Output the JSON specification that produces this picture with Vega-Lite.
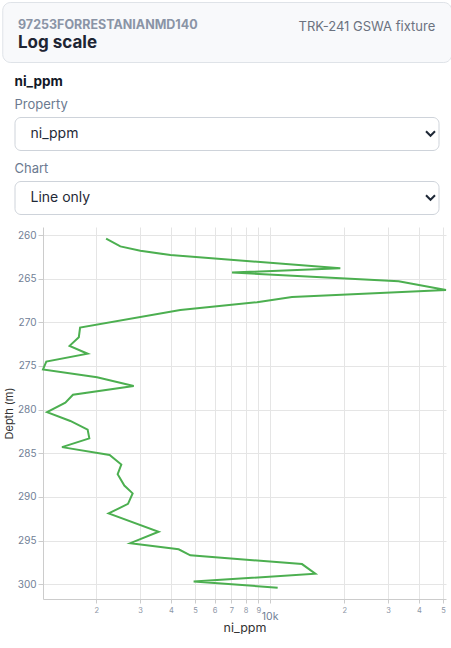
{
  "$schema": "https://vega.github.io/schema/vega-lite/v6.json",
  "background": "white",
  "padding": {"left": 1, "top": 1, "right": 1, "bottom": 0},
  "title": {"text": "97253FORRESTANIANMD140", "subtitle": "Log scale", "anchor": "start", "frame": "group", "dx": 16, "offset": -49, "font": "Inter", "fontSize": 12.5, "fontWeight": "bold", "color": "#8a94a6", "subtitleFont": "Inter", "subtitleFontSize": 17, "subtitleFontWeight": "bold", "subtitleColor": "#1e2533", "subtitlePadding": 3},
  "spacing": 6,
  "config": {"font": "Inter", "view": {"stroke": null}},
  "vconcat": [
    {
      "center": true,
      "spacing": 11,
      "vconcat": [
        {
          "width": 449,
          "height": 60,
          "view": {"fill": "#f8f9fb", "stroke": "#dfe3e8", "cornerRadius": 8},
          "title": {"text": "TRK-241 GSWA fixture", "anchor": "end", "frame": "group", "offset": -32, "dx": -16, "font": "Inter", "fontSize": 13, "fontWeight": "normal", "color": "#6b7280"},
          "data": {"values": [{"note": ""}]},
          "mark": {"type": "point", "opacity": 0},
          "encoding": {}
        },
        {
          "width": 424,
          "height": 33,
          "view": {"fill": "white", "stroke": "#ced3da", "cornerRadius": 6},
          "title": {"text": "ni_ppm", "subtitle": "Property", "anchor": "start", "frame": "group", "offset": 5, "font": "Inter", "fontSize": 13.5, "fontWeight": "bold", "color": "#111827", "subtitleFont": "Inter", "subtitleFontSize": 13, "subtitleColor": "#6b7a90", "subtitleFontWeight": "normal", "subtitlePadding": 11},
          "data": {"values": [{"selected": "ni_ppm"}]},
          "layer": [
            {"mark": {"type": "text", "align": "left", "baseline": "middle", "dx": -196, "fontSize": 14, "color": "#1f2937"}, "encoding": {"text": {"field": "selected"}}},
            {"mark": {"type": "point", "shape": "M-1,-0.5L0,0.5L1,-0.5", "size": 81, "filled": false, "strokeWidth": 2, "color": "#1f2937", "xOffset": 204, "opacity": 1}, "encoding": {}}
          ]
        },
        {
          "width": 424,
          "height": 33,
          "view": {"fill": "white", "stroke": "#ced3da", "cornerRadius": 6},
          "title": {"text": "Chart", "anchor": "start", "frame": "group", "offset": 5, "font": "Inter", "fontSize": 13, "fontWeight": "normal", "color": "#6b7a90"},
          "data": {"values": [{"selected": "Line only"}]},
          "layer": [
            {"mark": {"type": "text", "align": "left", "baseline": "middle", "dx": -196, "fontSize": 14, "color": "#1f2937"}, "encoding": {"text": {"field": "selected"}}},
            {"mark": {"type": "point", "shape": "M-1,-0.5L0,0.5L1,-0.5", "size": 81, "filled": false, "strokeWidth": 2, "color": "#1f2937", "xOffset": 204, "opacity": 1}, "encoding": {}}
          ]
        }
      ]
    },
    {
      "spacing": 0,
      "hconcat": [
        {
          "width": 1,
          "height": 1,
          "data": {"values": [{"note": ""}]},
          "mark": {"type": "text", "text": ""},
          "encoding": {}
        },
        {
          "width": 403,
          "height": 372,
          "data": {"values": [
            {"depth": 260.4, "ni_ppm": 2190},
            {"depth": 261.3, "ni_ppm": 2500},
            {"depth": 261.8, "ni_ppm": 3010},
            {"depth": 262.3, "ni_ppm": 3980},
            {"depth": 263.8, "ni_ppm": 19270},
            {"depth": 264.3, "ni_ppm": 7050},
            {"depth": 265.3, "ni_ppm": 33100},
            {"depth": 266.3, "ni_ppm": 51400},
            {"depth": 267.1, "ni_ppm": 12300},
            {"depth": 267.7, "ni_ppm": 8890},
            {"depth": 268.6, "ni_ppm": 4360},
            {"depth": 270.6, "ni_ppm": 1720},
            {"depth": 271.7, "ni_ppm": 1700},
            {"depth": 272.7, "ni_ppm": 1560},
            {"depth": 273.6, "ni_ppm": 1845},
            {"depth": 274.5, "ni_ppm": 1257},
            {"depth": 275.4, "ni_ppm": 1219},
            {"depth": 276.3, "ni_ppm": 2013},
            {"depth": 277.3, "ni_ppm": 2830},
            {"depth": 278.3, "ni_ppm": 1610},
            {"depth": 279.2, "ni_ppm": 1500},
            {"depth": 280.3, "ni_ppm": 1266},
            {"depth": 281.3, "ni_ppm": 1571},
            {"depth": 282.3, "ni_ppm": 1845},
            {"depth": 283.3, "ni_ppm": 1874},
            {"depth": 284.3, "ni_ppm": 1454},
            {"depth": 285.2, "ni_ppm": 2263},
            {"depth": 286.3, "ni_ppm": 2522},
            {"depth": 287.4, "ni_ppm": 2438},
            {"depth": 288.7, "ni_ppm": 2594},
            {"depth": 289.6, "ni_ppm": 2802},
            {"depth": 290.8, "ni_ppm": 2684},
            {"depth": 291.9, "ni_ppm": 2242},
            {"depth": 294.0, "ni_ppm": 3566},
            {"depth": 295.3, "ni_ppm": 2743},
            {"depth": 296.0, "ni_ppm": 4295},
            {"depth": 296.7, "ni_ppm": 4786},
            {"depth": 297.7, "ni_ppm": 13500},
            {"depth": 298.8, "ni_ppm": 15280},
            {"depth": 299.7, "ni_ppm": 4937},
            {"depth": 300.4, "ni_ppm": 10770}
          ]},
          "mark": {"type": "line", "color": "#4caf50", "strokeWidth": 2},
          "encoding": {
            "x": {
              "field": "ni_ppm", "type": "quantitative", "title": "ni_ppm",
              "scale": {"type": "log", "nice": false, "zero": false},
              "axis": {
                "grid": true, "gridColor": "#e5e5e5", "domainColor": "#cccccc", "tickColor": "#cccccc", "tickSize": 4,
                "labelExpr": "datum.value == 10000 ? '10k' : format(datum.value / pow(10, floor(log(datum.value) / LN10 + 0.000001)), '.0f')",
                "labelFontSize": {"condition": {"test": "datum.value == 10000", "value": 10.5}, "value": 7.5},
                "labelColor": {"condition": {"test": "datum.value == 10000", "value": "#718096"}, "value": "#8c95a5"},
                "labelPadding": {"condition": {"test": "datum.value == 10000", "value": 8}, "value": 3},
                "labelFlush": false, "labelOverlap": false,
                "titleFontSize": 12.5, "titleFontWeight": "normal", "titleColor": "#333333", "titlePadding": 0
              }
            },
            "y": {
              "field": "depth", "type": "quantitative", "title": "Depth (m)",
              "scale": {"domain": [259.08, 301.7], "reverse": true, "nice": false, "zero": false},
              "axis": {
                "grid": true, "gridColor": "#e5e5e5", "domainColor": "#cccccc", "tickColor": "#cccccc", "tickSize": 5,
                "labelFontSize": 10, "labelColor": "#718096", "labelPadding": 2,
                "titleFontSize": 11, "titleFontWeight": "normal", "titleColor": "#333333", "titlePadding": 3
              }
            },
            "order": {"field": "depth", "type": "quantitative"}
          }
        }
      ]
    }
  ]
}
